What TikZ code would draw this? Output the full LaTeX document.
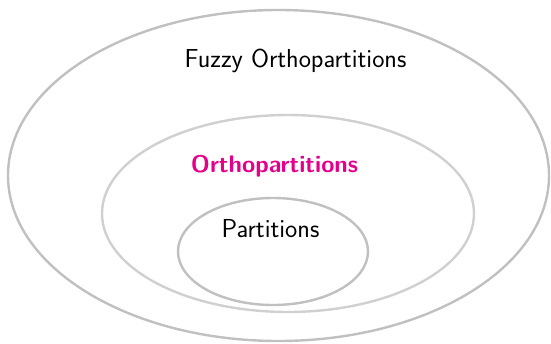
\documentclass[tikz,border=0pt]{standalone}
\usepackage{tikz}
\definecolor{ringA}{RGB}{192,192,192}
\definecolor{ringB}{RGB}{208,208,208}
\definecolor{ringC}{RGB}{192,192,192}
\definecolor{mag}{RGB}{228,0,138}
\begin{document}
\begin{tikzpicture}[x=1pt,y=-1pt,
  ring/.style={line width=2.4pt},
  lbl/.style={font=\sffamily\fontsize{26}{31}\selectfont, inner sep=0pt, text=black}]
\useasboundingbox (0,0) rectangle (551,343);
\draw[ring, ringA] (278.5,175.5) ellipse [x radius=270.5, y radius=165.5];
\draw[ring, ringB] (288,213.5) ellipse [x radius=186, y radius=98.5];
\draw[ring, ringC] (273,251.5) ellipse [x radius=95, y radius=53.5];
\node[lbl] (fuzzy) at (295.5,61) {Fuzzy Orthopartitions};
\node[lbl, text=mag, font=\sffamily\bfseries\fontsize{24}{29}\selectfont] (ortho) at (274.5,166.5) {Orthopartitions};
\node[lbl] (part) at (270.5,229) {Partitions};
\end{tikzpicture}
\end{document}
